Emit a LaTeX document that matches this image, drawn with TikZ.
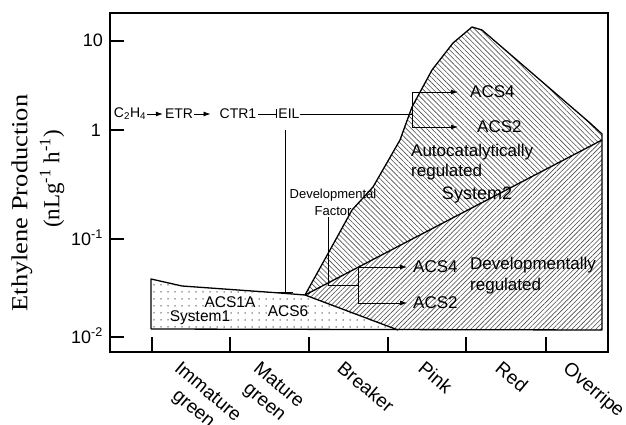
\documentclass[tikz,border=0pt]{standalone}
\usepackage{fontspec}
\setmainfont{Liberation Sans}
\newfontfamily\serifttl{Liberation Serif}
\usepackage{tikz}
\usetikzlibrary{arrows.meta, patterns.meta}
\definecolor{hatch}{gray}{0.3}

\begin{document}
\begin{tikzpicture}[x=1pt, y=-1pt,
    txt/.style={inner sep=0pt, font=\fontsize{17}{20}\selectfont},
    smalltxt/.style={inner sep=0pt, font=\fontsize{15.5}{18}\selectfont},
    pathtxt/.style={inner sep=0pt, font=\fontsize{14}{16}\selectfont},
    stage/.style={inner sep=0pt, anchor=north west, rotate=-40, align=center, font=\fontsize{19}{22}\selectfont},
    ticklbl/.style={inner sep=0pt, anchor=base east, font=\fontsize{18}{20}\selectfont},
    region/.style={line width=1.3pt, line join=round},
    act/.style={-{Latex[length=7pt, width=5pt]}, line width=0.8pt},
    blocked/.style={-{Bar[width=9pt]}, line width=0.8pt}]

  \useasboundingbox (0,0) rectangle (626,425);

  \coordinate (J) at (305,295);
  \coordinate (R) at (602,140);
  \coordinate (B) at (398,330);

  \fill[pattern={Dots[distance=7pt, radius=0.75pt]}, pattern color=black!70]
    (151,329) -- (151,279) -- (182,286) -- (280,293) -- (J) -- (B) -- cycle;
  \fill[pattern={Lines[angle=-45, distance=3.6pt, line width=0.6pt]}, pattern color=hatch]
    (J) -- (330,250) -- (352,210) -- (373,187) -- (400,140) -- (412,107) -- (432,70)
    -- (453,43) -- (472,27) -- (482,30) -- (590,123) -- (602,134) -- (R) -- cycle;
  \fill[pattern={Lines[angle=45, distance=3.4pt, line width=0.6pt]}, pattern color=hatch]
    (J) -- (R) -- (602,330) -- (B) -- cycle;

  \draw[region] (151,329) -- (151,279) -- (182,286) -- (280,293) -- (J);
  \draw[region] (J) -- (330,250) -- (352,210) -- (373,187) -- (400,140) -- (412,107) -- (432,70)
    -- (453,43) -- (472,27) -- (482,30) -- (590,123) -- (602,134) -- (R) -- (602,330) -- (151,329);
  \draw[region] (J) -- (R);
  \draw[region] (J) -- (B);

  \draw[line width=1.3pt] (110,13) rectangle (608,352);
  \foreach \y in {41,130,239,337}
    \draw[line width=1.2pt] (110,\y) -- (124,\y);
  \foreach \x in {152,230,309,388,466,546}
    \draw[line width=1.2pt] (\x,352) -- (\x,337);

  \node[ticklbl] (t10) at (103,47) {10};
  \node[ticklbl] (t1) at (101,136) {1};
  \node[ticklbl] (t01) at (103,245) {10\textsuperscript{-1}};
  \node[ticklbl] (t001) at (103,343) {10\textsuperscript{-2}};

  \node[rotate=90, xscale=1.15, font=\serifttl\fontsize{23}{26}\selectfont] (ttl) at (22,203) {Ethylene Production};
  \node[rotate=90, font=\serifttl\fontsize{23}{26}\selectfont] (unit) at (52,179) {(nLg\textsuperscript{-1} h\textsuperscript{-1})};

  \node[stage] (s1) at (182,360) {Immature\\green};
  \node[stage] (s2) at (261,360) {Mature\\green};
  \node[stage] (s3) at (345,360) {Breaker};
  \node[stage] (s4) at (426,360) {Pink};
  \node[stage] (s5) at (503,360) {Red};
  \node[stage] (s6) at (571,360) {Overripe};

  \node[pathtxt] (c2h4) at (130,114) {C\textsubscript{2}H\textsubscript{4}};
  \node[pathtxt] (etr) at (179,114) {ETR};
  \node[pathtxt] (ctr1) at (238,114) {CTR1};
  \node[pathtxt] (eil) at (289,114) {EIL};
  \draw[act, shorten <=1pt, shorten >=2pt] (c2h4) -- (etr);
  \draw[act, shorten <=1pt, shorten >=9pt] (etr) -- (ctr1);
  \draw[blocked, shorten <=2pt, shorten >=1pt] (ctr1) -- (eil);

  \coordinate (split1) at (412,114);
  \node[txt, anchor=west] (acs4a) at (470,92) {ACS4};
  \node[txt, anchor=west] (acs2a) at (477,127) {ACS2};
  \draw[line width=0.8pt] (eil.east) -- (split1);
  \draw[line width=0.8pt] (split1 |- acs4a.west) -- (split1 |- acs2a.west);
  \draw[act, shorten >=12pt] (split1 |- acs4a.west) -- (acs4a.west);
  \draw[act, shorten >=19pt] (split1 |- acs2a.west) -- (acs2a.west);

  \node[txt, anchor=west, align=left] (auto) at (411,162) {Autocatalytically\\regulated};
  \node[txt, font=\fontsize{18}{20}\selectfont] (sys2) at (477,195) {System2};

  \node[inner sep=0pt, align=center, font=\fontsize{13}{17}\selectfont] (devf) at (333,202) {Developmental\\Factor};
  \coordinate (dvf) at (328,285);
  \coordinate (split2) at (358,285);
  \node[txt, anchor=west] (acs4b) at (413,267) {ACS4};
  \node[txt, anchor=west] (acs2b) at (413,303) {ACS2};
  \draw[line width=0.8pt, shorten <=2pt] (devf.south -| dvf) -- (dvf) -- (split2);
  \draw[line width=0.8pt] (split2 |- acs4b.west) -- (split2 |- acs2b.west);
  \draw[act, shorten >=6pt] (split2 |- acs4b.west) -- (acs4b.west);
  \draw[act, shorten >=6pt] (split2 |- acs2b.west) -- (acs2b.west);
  \node[txt, anchor=west, align=left, font=\fontsize{17}{21}\selectfont] (devreg) at (470,276) {Developmentally\\regulated};

  \node[smalltxt] (acs1a) at (230,302) {ACS1A};
  \node[smalltxt] (sys1) at (200,318) {System1};
  \node[smalltxt] (acs6) at (288,311) {ACS6};
  \coordinate (inh) at (285,293);
  \draw[-{Bar[width=16pt]}, line width=0.8pt, shorten <=11pt] (eil.south -| inh) -- (inh);
\end{tikzpicture}
\end{document}
